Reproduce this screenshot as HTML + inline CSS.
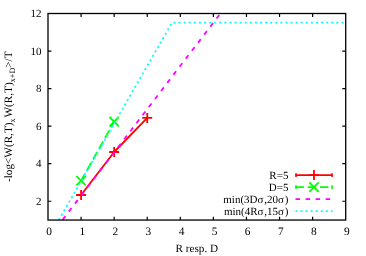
<!DOCTYPE html>
<html><head><meta charset="utf-8"><title>plot</title>
<style>html,body{margin:0;padding:0;background:#fff;width:366px;height:256px;overflow:hidden;font-family:"Liberation Serif",serif;}svg{will-change:transform}svg text{text-rendering:geometricPrecision}</style>
</head><body>
<svg width="366" height="256" viewBox="0 0 366 256" style="position:absolute;left:0;top:0">
<rect x="0" y="0" width="366" height="256" fill="#fff"/>
<defs><clipPath id="c"><rect x="48.00" y="12.50" width="297.70" height="207.55"/></clipPath></defs>
<polyline fill="none" stroke="#ff0000" stroke-width="1.80" stroke-linejoin="round" points="81.08,194.98 114.16,152.00 147.23,117.90"/>
<path d="M76.08 194.98H86.08M81.08 189.98V199.98" stroke="#ff0000" stroke-width="1.80" fill="none"/>
<path d="M109.16 152.00H119.16M114.16 147.00V157.00" stroke="#ff0000" stroke-width="1.80" fill="none"/>
<path d="M142.23 117.90H152.23M147.23 112.90V122.90" stroke="#ff0000" stroke-width="1.80" fill="none"/>
<polyline fill="none" stroke="#00ff00" stroke-width="1.80" stroke-dasharray="8.4 3.85" points="81.08,180.75 114.16,121.69"/>
<path d="M76.38 176.05L85.78 185.45M76.38 185.45L85.78 176.05" stroke="#00ff00" stroke-width="1.80" fill="none"/>
<path d="M109.46 116.99L118.86 126.39M109.46 126.39L118.86 116.99" stroke="#00ff00" stroke-width="1.80" fill="none"/>
<path d="M62.36 220.05L220.63 13.12" stroke="#ff00ff" stroke-width="1.80" stroke-dasharray="4.5 5.63" stroke-dashoffset="9.68" fill="none"/>
<path d="M58.77 220.05L172.04 22.60L345.70 22.60" stroke="#00ffff" stroke-width="1.80" stroke-dasharray="2 3.09" fill="none"/>
<path d="M295.50 175.10H332.50" stroke="#ff0000" stroke-width="1.80"/>
<path d="M296.00 173.30V176.90M332.00 173.30V176.90" stroke="#ff0000" stroke-width="1.6"/>
<path d="M309.00 175.10H319.00M314.00 170.10V180.10" stroke="#ff0000" stroke-width="1.80" fill="none"/>
<path d="M295.50 187.15H332.50" stroke="#00ff00" stroke-width="1.80" stroke-dasharray="8.4 3.85"/>
<path d="M296.00 185.35V188.95M332.00 185.35V188.95" stroke="#00ff00" stroke-width="1.6"/>
<path d="M309.30 182.45L318.70 191.85M309.30 191.85L318.70 182.45" stroke="#00ff00" stroke-width="1.80" fill="none"/>
<path d="M295.50 199.10H331.50" stroke="#ff00ff" stroke-width="1.80" stroke-dasharray="4.5 5.55"/>
<path d="M295.50 211.05H332.50" stroke="#00ffff" stroke-width="1.80" stroke-dasharray="2 3.05"/>
<rect x="48.00" y="13.50" width="297.70" height="206.55" fill="none" stroke="#000" stroke-width="1.3"/>
<path d="M81.08 220.05v-3.40M81.08 13.50v3.40M114.16 220.05v-3.40M114.16 13.50v3.40M147.23 220.05v-3.40M147.23 13.50v3.40M180.31 220.05v-3.40M180.31 13.50v3.40M213.39 220.05v-3.40M213.39 13.50v3.40M246.47 220.05v-3.40M246.47 13.50v3.40M279.54 220.05v-3.40M279.54 13.50v3.40M312.62 220.05v-3.40M312.62 13.50v3.40M48.00 201.27h3.40M345.70 201.27h-3.40M48.00 163.72h3.40M345.70 163.72h-3.40M48.00 126.16h3.40M345.70 126.16h-3.40M48.00 88.61h3.40M345.70 88.61h-3.40M48.00 51.05h3.40M345.70 51.05h-3.40" stroke="#000" stroke-width="1.2" fill="none"/>
<g font-family="Liberation Serif, serif" font-size="11" fill="#000">
<text x="49.20" y="234.7" font-size="11.4" text-anchor="middle">0</text>
<text x="82.28" y="234.7" font-size="11.4" text-anchor="middle">1</text>
<text x="115.36" y="234.7" font-size="11.4" text-anchor="middle">2</text>
<text x="148.43" y="234.7" font-size="11.4" text-anchor="middle">3</text>
<text x="181.51" y="234.7" font-size="11.4" text-anchor="middle">4</text>
<text x="214.59" y="234.7" font-size="11.4" text-anchor="middle">5</text>
<text x="247.67" y="234.7" font-size="11.4" text-anchor="middle">6</text>
<text x="280.74" y="234.7" font-size="11.4" text-anchor="middle">7</text>
<text x="313.82" y="234.7" font-size="11.4" text-anchor="middle">8</text>
<text x="346.90" y="234.7" font-size="11.4" text-anchor="middle">9</text>
<text x="41.5" y="204.97" text-anchor="end">2</text>
<text x="41.5" y="167.42" text-anchor="end">4</text>
<text x="41.5" y="129.86" text-anchor="end">6</text>
<text x="41.5" y="92.31" text-anchor="end">8</text>
<text x="41.5" y="54.75" text-anchor="end">10</text>
<text x="41.5" y="17.20" text-anchor="end">12</text>
<text x="196.8" y="251.6" font-size="11.2" text-anchor="middle">R resp. D</text>
<text transform="translate(11.5,116.7) rotate(-90)" font-size="11.2" text-anchor="middle">-log&lt;W(R,T)<tspan font-size="8.2" dy="3.2">x</tspan><tspan dy="-3.2" dx="1">W(R,T)</tspan><tspan font-size="8.2" dy="3.2">x+D</tspan><tspan dy="-3.2">&gt;/T</tspan></text>
<text x="288.4" y="178.70" text-anchor="end">R=5</text>
<text x="288.4" y="190.75" text-anchor="end">D=5</text>
<text x="288.4" y="202.70" text-anchor="end">min(3D<tspan letter-spacing="0.8">σ</tspan>,20<tspan letter-spacing="0.8">σ</tspan>)</text>
<text x="288.4" y="214.65" text-anchor="end">min(4R<tspan letter-spacing="0.8">σ</tspan>,15<tspan letter-spacing="0.8">σ</tspan>)</text>
</g>
</svg>
</body></html>
